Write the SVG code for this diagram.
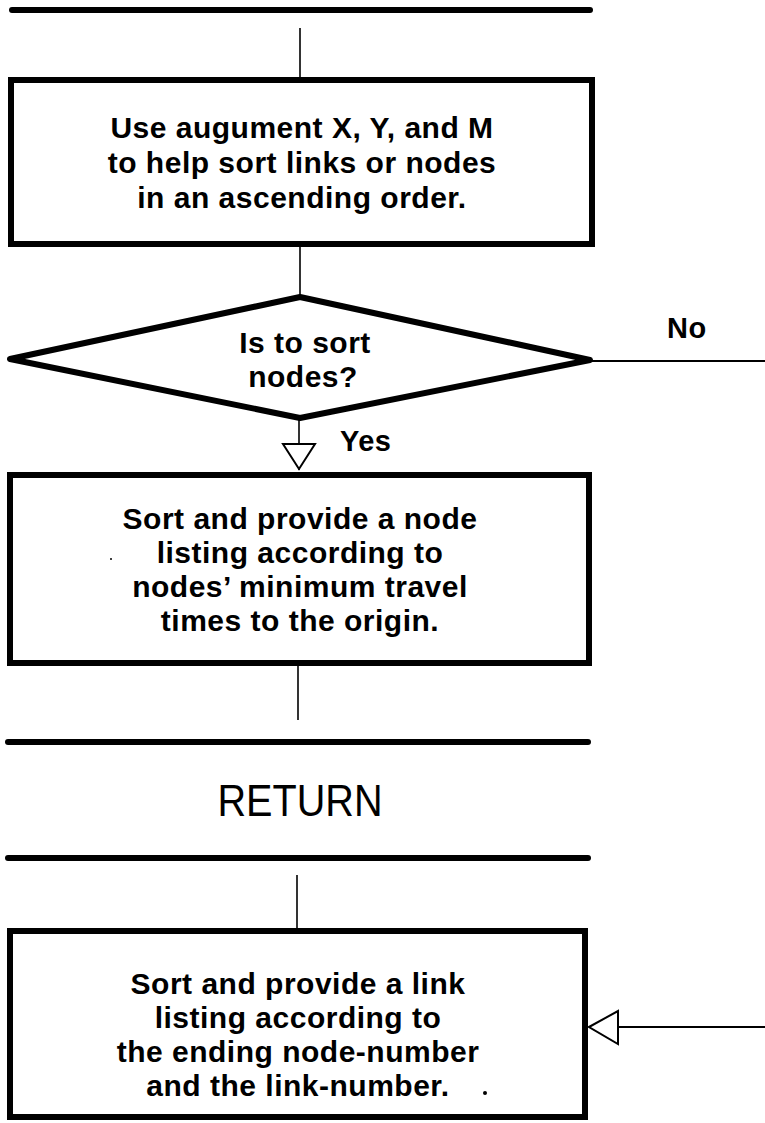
<svg xmlns="http://www.w3.org/2000/svg" width="765" height="1123" viewBox="0 0 765 1123">
<style>
.bar{stroke:#000;stroke-width:6;stroke-linecap:round}
.box{fill:#fff;stroke:#000;stroke-width:6}
.dia{fill:#fff;stroke:#000;stroke-width:6;stroke-linejoin:round}
.ln{stroke:#000;stroke-width:1.6;fill:none}
.ln2{stroke:#000;stroke-width:2;fill:none}
.head{fill:#fff;stroke:#000;stroke-width:2;stroke-linejoin:miter}
.t{font-family:"Liberation Sans",Arial,sans-serif;font-weight:bold;font-size:30px;letter-spacing:0.5px;text-anchor:middle;fill:#000}
.lbl{font-family:"Liberation Sans",Arial,sans-serif;font-weight:bold;font-size:29px;letter-spacing:0.5px;fill:#000}
.ret{font-family:"Liberation Sans",Arial,sans-serif;font-size:44px;text-anchor:middle;fill:#000}
</style>
<rect width="765" height="1123" fill="#fff"/>
<g id="connectors">
<line class="ln" x1="300" y1="28" x2="300" y2="78"/>
<line class="ln" x1="300" y1="247" x2="300" y2="297"/>
<line class="ln2" x1="592" y1="361" x2="765" y2="361"/>
<line class="ln" x1="299" y1="418" x2="299" y2="470"/>
<polygon class="head" points="283,444 315,444 299,469"/>
<line class="ln" x1="298" y1="666" x2="298" y2="720"/>
<line class="ln" x1="297" y1="875" x2="297" y2="928"/>
<line class="ln2" x1="589" y1="1027" x2="765" y2="1027"/>
<polygon class="head" points="589,1027 618,1011 618,1044"/>
</g>
<g id="start-bar">
<line class="bar" x1="12" y1="10" x2="590" y2="10"/>
</g>
<g id="box-sort-setup">
<rect class="box" x="11" y="80" width="581" height="164"/>
<text class="t" x="302" y="138">Use augument X, Y, and M</text>
<text class="t" x="302" y="173">to help sort links or nodes</text>
<text class="t" x="302" y="208">in an ascending order.</text>
</g>
<g id="decision">
<polygon class="dia" points="300,297 10,359 300,418 590,360"/>
<text class="t" x="305" y="353">Is to sort</text>
<text class="t" x="303" y="387">nodes?</text>
<text class="lbl" x="667" y="338">No</text>
<text class="lbl" x="340" y="451">Yes</text>
</g>
<g id="box-sort-nodes">
<rect class="box" x="10" y="475" width="579" height="188"/>
<text class="t" x="300" y="529">Sort and provide a node</text>
<text class="t" x="300" y="563">listing according to</text>
<text class="t" x="300" y="597">nodes’ minimum travel</text>
<text class="t" x="300" y="631">times to the origin.</text>
<circle cx="111" cy="559" r="1" fill="#000"/>
</g>
<g id="return">
<line class="bar" x1="8" y1="742" x2="588" y2="742"/>
<text class="ret" x="300" y="816" textLength="165" lengthAdjust="spacingAndGlyphs">RETURN</text>
<line class="bar" x1="8" y1="858" x2="588" y2="858"/>
</g>
<g id="box-sort-links">
<rect class="box" x="10" y="931" width="575" height="186"/>
<text class="t" x="298" y="994">Sort and provide a link</text>
<text class="t" x="298" y="1028">listing according to</text>
<text class="t" x="298" y="1062">the ending node-number</text>
<text class="t" x="298" y="1096">and the link-number.</text>
<circle cx="485" cy="1093" r="2" fill="#000"/>
</g>
</svg>
